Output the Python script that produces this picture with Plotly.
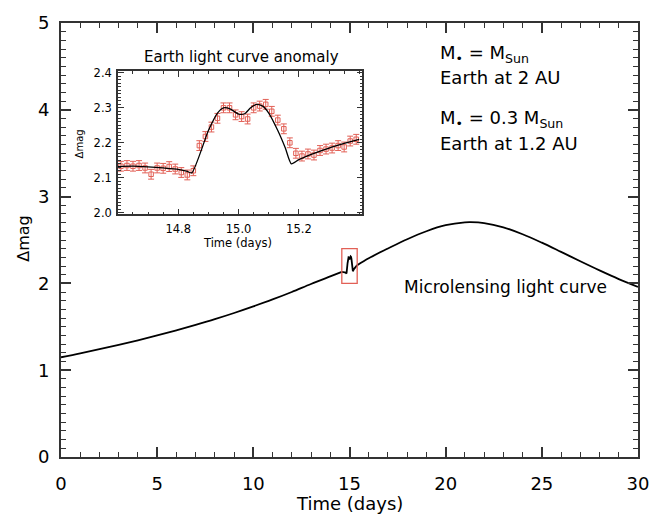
import plotly.graph_objects as go

# ---------------- data ----------------
# main microlensing light curve, split around the anomaly
main_t_before = [0, 1, 2, 3, 4, 5, 6, 7, 8, 9, 10, 11, 12, 13, 14, 14.6]
main_m_before = [1.149, 1.194, 1.242, 1.292, 1.344, 1.400, 1.459, 1.522, 1.588,
                 1.659, 1.735, 1.815, 1.901, 1.993, 2.080, 2.132]
main_t_after = [15.4, 16, 17, 18, 19, 20, 21, 21.3, 22, 23, 24, 25, 26, 27, 28, 29, 30]
main_m_after = [2.210, 2.290, 2.402, 2.509, 2.601, 2.670, 2.703, 2.705, 2.695, 2.646,
                2.566, 2.469, 2.363, 2.255, 2.150, 2.050, 1.960]

# anomaly model line (inset black curve)
model_t = [14.60, 14.65, 14.70, 14.75, 14.80, 14.83, 14.845, 14.90, 14.93, 14.95, 14.97,
           15.00, 15.02, 15.04, 15.06, 15.08, 15.10, 15.13, 15.155, 15.175, 15.20, 15.25,
           15.30, 15.35, 15.40]
model_m = [2.132, 2.133, 2.131, 2.128, 2.124, 2.118, 2.114, 2.235, 2.285, 2.300, 2.298,
           2.282, 2.283, 2.300, 2.310, 2.305, 2.285, 2.235, 2.185, 2.140, 2.152, 2.170,
           2.185, 2.198, 2.210]

# simulated observations (red points with error bars)
obs_t = [14.61, 14.63, 14.65, 14.67, 14.69, 14.71, 14.73, 14.75, 14.77, 14.79,
         14.81, 14.83, 14.85, 14.87, 14.89, 14.91, 14.93, 14.95, 14.97, 14.99,
         15.01, 15.03, 15.05, 15.07, 15.09, 15.11, 15.13, 15.15, 15.17, 15.19,
         15.21, 15.23, 15.25, 15.27, 15.29, 15.31, 15.33, 15.35, 15.37, 15.39]
obs_m = [2.133, 2.135, 2.133, 2.135, 2.128, 2.110, 2.128, 2.127, 2.132, 2.125,
         2.115, 2.108, 2.120, 2.192, 2.218, 2.245, 2.270, 2.300, 2.300, 2.280,
         2.275, 2.268, 2.300, 2.305, 2.310, 2.290, 2.265, 2.240, 2.200, 2.170,
         2.162, 2.168, 2.165, 2.178, 2.182, 2.185, 2.192, 2.188, 2.205, 2.210]
obs_err = 0.014

box_t = [14.6, 15.4]
box_m = [2.0, 2.4]

x_ticks_main = [0, 5, 10, 15, 20, 25, 30]
y_ticks_main = [0, 1, 2, 3, 4, 5]
x_ticks_inset = [14.8, 15.0, 15.2]
y_ticks_inset = [2.0, 2.1, 2.2, 2.3, 2.4]

# ---------------- figure ----------------
FONT = "DejaVu Sans"
RED = "rgb(226,96,86)"
AX = "#333333"
W, H = 661, 514
L, R, T, B = 61, 12, 15, 57
pw, ph = W - L - R, H - T - B


def px(x):
    return (x - L) / pw


def py(y):
    return (H - B - y) / ph


fig = go.Figure()

fig.add_trace(go.Scatter(x=main_t_before, y=main_m_before, mode="lines",
                         line=dict(color="black", width=1.8, shape="spline"),
                         xaxis="x", yaxis="y", hoverinfo="skip"))
fig.add_trace(go.Scatter(x=model_t, y=model_m, mode="lines",
                         line=dict(color="black", width=1.8),
                         xaxis="x", yaxis="y", hoverinfo="skip"))
fig.add_trace(go.Scatter(x=main_t_after, y=main_m_after, mode="lines",
                         line=dict(color="black", width=1.8, shape="spline"),
                         xaxis="x", yaxis="y", hoverinfo="skip"))

# inset
fig.add_trace(go.Scatter(x=obs_t, y=obs_m, mode="markers",
                         marker=dict(symbol="square-open", size=4.5, color=RED,
                                     line=dict(width=1, color=RED)),
                         error_y=dict(type="constant", value=obs_err, color=RED,
                                      thickness=1, width=3),
                         xaxis="x2", yaxis="y2", hoverinfo="skip"))
fig.add_trace(go.Scatter(x=model_t, y=model_m, mode="lines",
                         line=dict(color="black", width=1.3, shape="spline", smoothing=0.6),
                         xaxis="x2", yaxis="y2", hoverinfo="skip"))

fig.add_shape(type="rect", xref="x", yref="y", x0=box_t[0], x1=box_t[1],
              y0=box_m[0], y1=box_m[1], line=dict(color=RED, width=1.3))

common = dict(showgrid=False, zeroline=False, showline=True, mirror="ticks",
              ticks="inside", linecolor=AX, tickcolor=AX)

fig.update_layout(
    width=W, height=H, margin=dict(l=L, r=R, t=T, b=B),
    paper_bgcolor="white", plot_bgcolor="white", showlegend=False,
    font=dict(family=FONT, color="black"),
    xaxis=dict(**common, range=[0, 30], tickvals=x_ticks_main, ticklen=10, tickwidth=1.5,
               linewidth=2, minor=dict(dtick=1, ticklen=5, ticks="inside", tickcolor=AX,
                                      tickwidth=1.2),
               tickfont=dict(size=18, family=FONT), ticklabelstandoff=9, domain=[0, 1]),
    yaxis=dict(**common, range=[0, 5], tickvals=y_ticks_main, ticklen=10, tickwidth=1.5,
               linewidth=2, minor=dict(dtick=0.1, ticklen=5, ticks="inside", tickcolor=AX,
                                      tickwidth=1.2),
               tickfont=dict(size=18, family=FONT), ticklabelstandoff=6, domain=[0, 1]),
    xaxis2=dict(**common, anchor="y2", range=[14.6, 15.41], tickvals=x_ticks_inset,
                tickformat=".1f", ticklen=6, tickwidth=1, linewidth=1.5,
                minor=dict(dtick=0.05, tick0=14.6, ticklen=3, ticks="inside", tickcolor=AX),
                tickfont=dict(size=11.5, family=FONT), ticklabelstandoff=3,
                domain=[px(119), px(368)]),
    yaxis2=dict(**common, anchor="x2", range=[1.995, 2.405], tickvals=y_ticks_inset,
                tickformat=".1f", ticklen=6, tickwidth=1, linewidth=1.5,
                minor=dict(dtick=0.01, tick0=2.0, ticklen=3, ticks="inside", tickcolor=AX),
                tickfont=dict(size=11.5, family=FONT), ticklabelstandoff=2,
                domain=[py(210), py(64)]),
)

ann = []
ann.append(dict(text="Time (days)", x=px(355), y=py(504), xref="paper", yref="paper",
                showarrow=False, font=dict(size=18), xanchor="center", yanchor="middle"))
ann.append(dict(text="Δmag", x=px(22), y=py(234), xref="paper", yref="paper",
                showarrow=False, font=dict(size=16), textangle=-90,
                xanchor="center", yanchor="middle"))
ann.append(dict(text="Earth light curve anomaly", x=px(245), y=py(50), xref="paper",
                yref="paper", showarrow=False, font=dict(size=15),
                xanchor="center", yanchor="middle"))
ann.append(dict(text="Time (days)", x=px(241), y=py(239), xref="paper", yref="paper",
                showarrow=False, font=dict(size=11.5), xanchor="center", yanchor="middle"))
ann.append(dict(text="Δmag", x=px(80), y=py(138), xref="paper", yref="paper",
                showarrow=False, font=dict(size=10), textangle=-90,
                xanchor="center", yanchor="middle"))
ann.append(dict(text="Microlensing light curve", x=px(514), y=py(284), xref="paper",
                yref="paper", showarrow=False, font=dict(size=17),
                xanchor="center", yanchor="middle"))
for txt, yy in [("M<sub>•</sub> = M<sub>Sun</sub>", 47), ("Earth at 2 AU", 71),
                ("M<sub>•</sub> = 0.3 M<sub>Sun</sub>", 113), ("Earth at 1.2 AU", 138)]:
    ann.append(dict(text=txt, x=px(445), y=py(yy), xref="paper", yref="paper",
                    showarrow=False, font=dict(size=18), xanchor="left", yanchor="middle"))
fig.update_layout(annotations=ann)

fig.write_html("out.html")
